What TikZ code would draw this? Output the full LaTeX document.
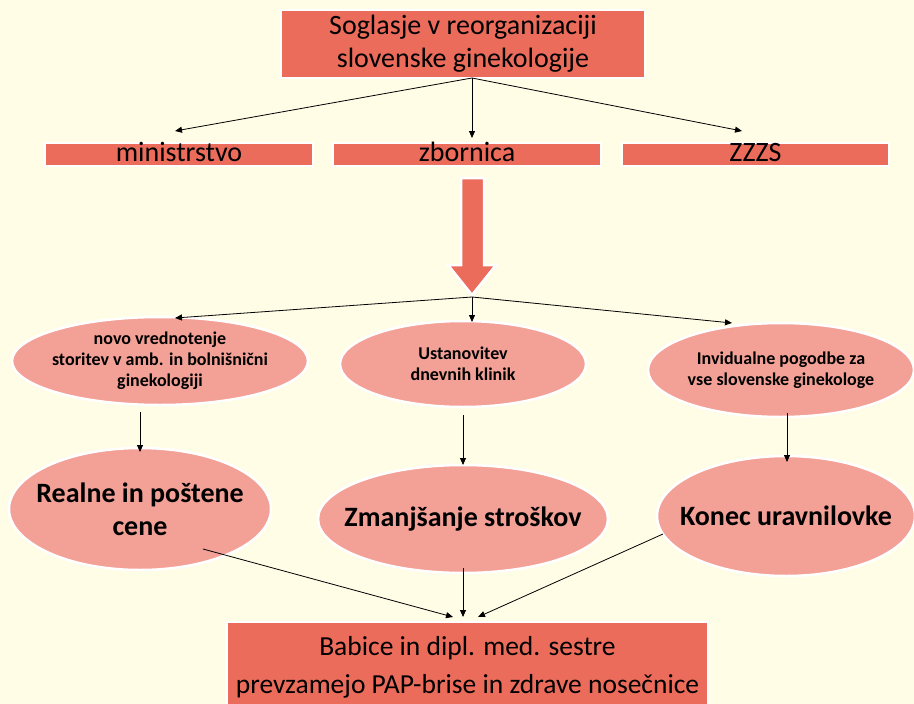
\documentclass[tikz,border=0pt]{standalone}
\usepackage{fontspec}
\setmainfont{Carlito}
\usetikzlibrary{shapes.geometric,arrows.meta}
\definecolor{bgc}{HTML}{FFFDE6}
\definecolor{boxc}{HTML}{EC6C5C}
\definecolor{ellc}{HTML}{F3A196}
\tikzset{
  boxn/.style={draw=white,line width=2.5pt,fill=boxc,inner sep=0pt,align=center,text=black},
  rowbox/.style={boxn,minimum height=23pt,text height=18pt,text depth=5pt,font=\fontsize{28}{30}\selectfont},
  elln/.style={ellipse,draw=white,line width=2.5pt,fill=ellc,inner xsep=-80pt,inner ysep=-40pt,align=center,text=black},
  smalltxt/.style={font=\bfseries\fontsize{18}{21}\selectfont},
  bigtxt/.style={font=\bfseries\fontsize{28}{33}\selectfont},
  conn/.style={draw=black,line width=0.8pt,-{Triangle[length=7pt,width=6pt]}}
}
\begin{document}
\begin{tikzpicture}[x=1pt,y=-1pt]
\fill[bgc] (0,0) rectangle (914,704);
\useasboundingbox (0,0) rectangle (914,704);
% top box
\node[boxn,minimum width=364pt,minimum height=68pt,font=\fontsize{28}{33}\selectfont] (top) at (463,44) {Soglasje v reorganizaciji\\slovenske ginekologije};
% row boxes
\node[rowbox,minimum width=268pt] (min) at (179,154.5) {ministrstvo};
\node[rowbox,minimum width=268pt] (zbo) at (467,154.5) {zbornica};
\node[rowbox,minimum width=267pt] (zzz) at (755.5,154.5) {ZZZS};
\coordinate (tA) at (472,78);
\coordinate (t1) at (175,131);
\coordinate (t2) at (472,138);
\coordinate (t3) at (742,131);
\draw[conn] (tA) -- (t1);
\draw[conn] (tA) -- (t2);
\draw[conn] (tA) -- (t3);
% big arrow
\draw[white,line width=2.5pt,fill=boxc] (461,178) -- (484,178) -- (484,265) -- (496,265) -- (472,295) -- (448,265) -- (461,265) -- cycle;
\coordinate (br) at (472,297);
% row 1 ellipses
\node[elln,smalltxt,minimum width=296pt,minimum height=88pt] (e1) at (160,361) {novo vrednotenje\\storitev v amb. in bolnišnični\\ginekologiji};
\node[elln,smalltxt,minimum width=246pt,minimum height=86pt] (e2) at (463,364) {Ustanovitev\\dnevnih klinik};
\node[elln,smalltxt,minimum width=266pt,minimum height=94pt] (e3) at (781,370) {Invidualne pogodbe za\\vse slovenske ginekologe};
\coordinate (u1) at (175,318);
\coordinate (u2) at (472,322);
\coordinate (u3) at (732,323);
\draw[conn] (br) -- (u1);
\draw[conn] (br) -- (u2);
\draw[conn] (br) -- (u3);
% row 2 ellipses
\node[elln,bigtxt,minimum width=262pt,minimum height=122pt] (f1) at (140,509) {Realne in poštene\\cene};
\node[elln,bigtxt,minimum width=290pt,minimum height=108pt] (f2) at (463,519) {Zmanjšanje stroškov};
\node[elln,bigtxt,minimum width=258pt,minimum height=120pt] (f3) at (786,516) {Konec uravnilovke};
\coordinate (a1) at (140,412);
\coordinate (b1) at (140,452);
\coordinate (a2) at (463,415);
\coordinate (b2) at (463,465);
\coordinate (a3) at (787,413);
\coordinate (b3) at (787,462);
\draw[conn] (a1) -- (b1);
\draw[conn] (a2) -- (b2);
\draw[conn] (a3) -- (b3);
% bottom box
\node[boxn,minimum width=481pt,minimum height=90pt,font=\fontsize{27.5}{38}\selectfont] (bot) at (467.5,667) {Babice in dipl. med. sestre\\prevzamejo PAP-brise in zdrave nosečnice};
\coordinate (c1) at (203,549);
\coordinate (d1) at (453,617);
\coordinate (c2) at (463,568);
\coordinate (d2) at (463,617);
\coordinate (c3) at (663,534);
\coordinate (d3) at (478,617);
\draw[conn] (c1) -- (d1);
\draw[conn] (c2) -- (d2);
\draw[conn] (c3) -- (d3);
\end{tikzpicture}
\end{document}
